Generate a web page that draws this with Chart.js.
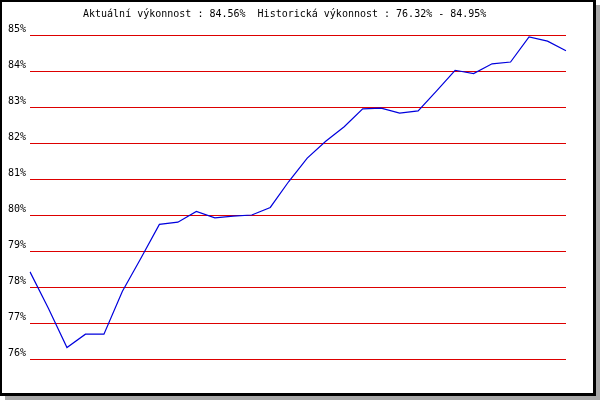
<!DOCTYPE html>
<html>
<head>
<meta charset="utf-8">
<script src="https://cdn.jsdelivr.net/npm/chart.js@4/dist/chart.umd.min.js"></script>
<style>
    body { margin: 0; background: #fff; }
    #wrap { position: relative; width: 600px; height: 400px; }
    #stin { position: absolute; left: 5px; top: 5px; width: 595px; height: 395px; background: #a8a8a8; }
    #ramec { position: absolute; left: 0; top: 0; width: 596px; height: 396px; box-sizing: border-box;
             border: solid #000; border-width: 2px 3px 3px 2px; background: #fff; }
    #graf { position: absolute; left: 0; top: 0; }
</style>
</head>
<body>
<div id="wrap">
    <div id="stin"></div>
    <div id="ramec"></div>
    <canvas id="graf" width="600" height="400"></canvas>
</div>
<script>
// Data výkonnosti (30 měření)
const popisky = ['1','2','3','4','5','6','7','8','9','10','11','12','13','14','15',
                 '16','17','18','19','20','21','22','23','24','25','26','27','28','29','30'];
const vykonnost = [78.42, 77.40, 76.32, 76.69, 76.69, 77.88, 78.80, 79.74, 79.80, 80.10,
                   79.92, 79.97, 80.00, 80.21, 80.93, 81.58, 82.05, 82.45, 82.95, 82.97,
                   82.83, 82.89, 83.45, 84.02, 83.93, 84.20, 84.25, 84.95, 84.83, 84.56];
const osaMin = 76;
const osaMax = 85;
const nadpis = 'Aktuální výkonnost : 84.56%  Historická výkonnost : 76.32% - 84.95%';

const pismo = '"DejaVu Sans Mono", monospace';

// Nadpis kreslený ručně (nadpis Chart.js se centruje přes celou šířku)
const nadpisPlugin = {
    id: 'nadpisPlugin',
    afterDraw(chart) {
        const ctx = chart.ctx;
        ctx.save();
        ctx.font = '10px ' + pismo;
        ctx.fillStyle = '#000';
        ctx.textAlign = 'left';
        ctx.textBaseline = 'alphabetic';
        ctx.fillText(nadpis, 83, 17);
        ctx.restore();
    }
};

const ctx = document.getElementById('graf').getContext('2d');
new Chart(ctx, {
    type: 'line',
    data: {
        labels: popisky,
        datasets: [{
            data: vykonnost,
            borderColor: '#0000dd',
            borderWidth: 1.2,
            pointRadius: 0,
            tension: 0,
            fill: false
        }]
    },
    options: {
        responsive: false,
        animation: false,
        layout: { padding: { top: 35, right: 34, bottom: 41, left: 0 } },
        plugins: {
            legend: { display: false },
            title: { display: false },
            tooltip: { enabled: false }
        },
        scales: {
            x: {
                display: false,
                offset: false
            },
            y: {
                min: osaMin,
                max: osaMax,
                afterFit: (scale) => { scale.width = 30; },
                border: { display: false },
                grid: { color: '#dd0000', lineWidth: 1, drawTicks: false },
                ticks: {
                    stepSize: 1,
                    padding: 4,
                    labelOffset: -6,
                    color: '#000',
                    font: { family: pismo, size: 10 },
                    callback: (v) => v + '%'
                }
            }
        }
    },
    plugins: [nadpisPlugin]
});
</script>
</body>
</html>
